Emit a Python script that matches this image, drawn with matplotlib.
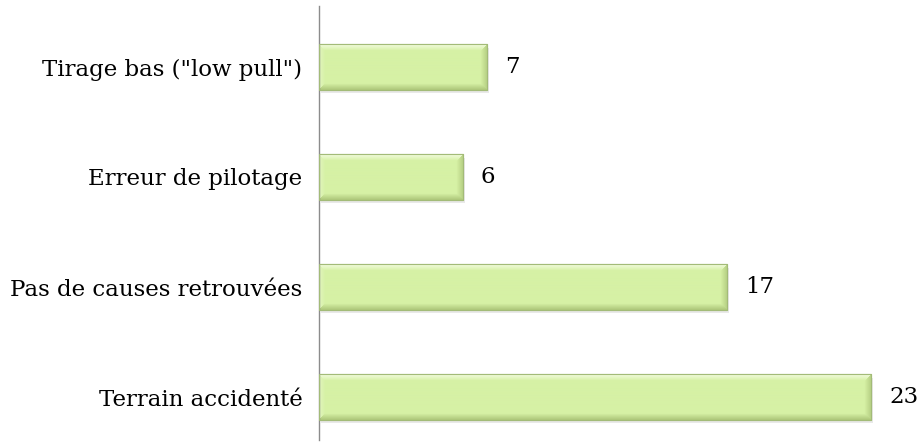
import numpy as np
import matplotlib.pyplot as plt
from matplotlib.colors import to_rgb

categories = ['Tirage bas ("low pull")', 'Erreur de pilotage',
              'Pas de causes retrouvées', 'Terrain accidenté']
valeurs = [7, 6, 17, 23]

plt.rcParams['font.family'] = ['DejaVu Serif']

fig = plt.figure(figsize=(9.18, 4.46), dpi=100)
# axe de 6 px à 440 px depuis le haut
ax = fig.add_axes([319 / 918, 6 / 446, 576 / 918, 434 / 446])

y = np.arange(len(categories))
bars = ax.barh(y, valeurs, height=0.41, color='#d5f0a3',
               edgecolor='#a3bb78', linewidth=0.8, zorder=2)

corps = np.array(to_rgb('#d6f1a5'))
haut = np.array(to_rgb('#f2fbdc'))
bas = np.array(to_rgb('#afc97c'))
droite = np.array(to_rgb('#b9d387'))
gauche = np.array(to_rgb('#e2f5bd'))


def biseau(wpx, hpx, e=6):
    # image d'une barre en relief (biseau façon Excel)
    img = np.tile(corps, (hpx, wpx, 1))
    yy, xx = np.mgrid[0:hpx, 0:wpx]
    dist = {
        'haut': yy, 'bas': hpx - 1 - yy,
        'gauche': xx, 'droite': wpx - 1 - xx,
    }
    cols = {'haut': haut, 'bas': bas, 'gauche': gauche, 'droite': droite}
    d = np.stack([dist[k] for k in cols])
    idx = np.argmin(d, axis=0)
    dmin = np.min(d, axis=0)
    a = np.clip(1 - dmin / e, 0, 1)[..., None]
    edge = np.array([cols[k] for k in cols])[idx]
    return img * (1 - a) + edge * a


for b in bars:
    x0, y0, w, h = b.get_x(), b.get_y(), b.get_width(), b.get_height()
    img = biseau(int(w * 24), 45)
    ax.imshow(img, aspect='auto', zorder=2.5, interpolation='bilinear',
              extent=[x0, x0 + w, y0 + h, y0], origin='upper')
    # ombre légère
    ax.barh(y0 + h / 2 + 0.03, w, left=x0 + 0.08, height=h,
            color='#d4d4d4', alpha=0.5, zorder=1.5, linewidth=0)
    ax.add_patch(plt.Rectangle((x0, y0), w, h, fill=False,
                               edgecolor='#a3bb78', linewidth=0.8, zorder=3))

for yi, v in zip(y, valeurs):
    ax.text(v + 0.75, yi, str(v), va='center', ha='left', fontsize=16.5)

ax.set_xlim(0, 24)
ax.set_ylim((440 - 67) / 110, (6 - 67) / 110)
ax.set_yticks(y)
ax.set_yticklabels(categories, fontsize=16.5)
ax.tick_params(axis='y', length=0, pad=12)
ax.set_xticks([])
for s in ['top', 'right', 'bottom']:
    ax.spines[s].set_visible(False)
ax.spines['left'].set_color('#8c8c8c')
ax.spines['left'].set_linewidth(1.0)

fig.savefig('out.png', dpi=100)
